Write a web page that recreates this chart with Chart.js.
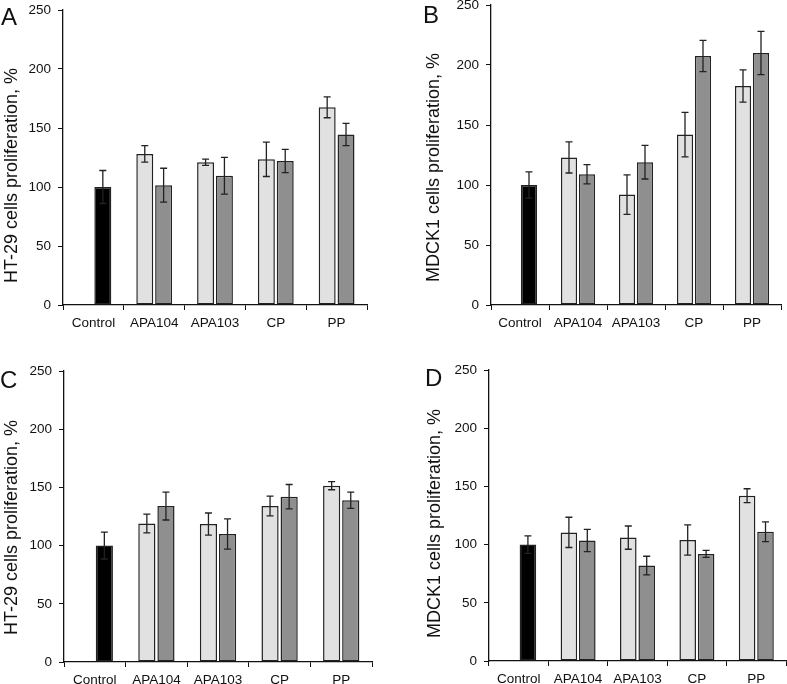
<!DOCTYPE html>
<html>
<head>
<meta charset="utf-8">
<script src="https://cdn.jsdelivr.net/npm/chart.js@4"></script>
<style>
  body { margin: 0; background: #fff; }
  #wrap { position: relative; width: 787px; height: 684px; }
  canvas { position: absolute; }
</style>
</head>
<body>
<div id="wrap">
  <canvas id="chartA"></canvas>
  <canvas id="chartB"></canvas>
  <canvas id="chartC"></canvas>
  <canvas id="chartD"></canvas>
</div>
<script>
// categories and y ticks
const categories = ['Control', 'APA104', 'APA103', 'CP', 'PP'];
const yTicks = [0, 50, 100, 150, 200, 250];

const panelLetters = ['A', 'B', 'C', 'D'];
const yTitles = [
  'HT-29 cells proliferation, %',
  'MDCK1 cells proliferation, %',
  'HT-29 cells proliferation, %',
  'MDCK1 cells proliferation, %'
];

// control bar (one per panel) and its error
const controlMean = [100, 100, 100, 100];
const controlErr = [14, 11, 11.5, 7.5];

// panel A - HT-29
const lightA = [128, 121, 123.5, 167.5];
const lightErrA = [7, 2.6, 14.6, 8.8];
const darkA = [101.5, 109.5, 122, 144.5];
const darkErrA = [14.4, 15.6, 9.9, 9.5];

// panel B - MDCK1
const lightB = [123, 92, 142, 182.5];
const lightErrB = [13, 16.5, 18.5, 13.5];
const darkB = [109, 119, 207.5, 210];
const darkErrB = [8, 14, 13, 18];

// panel C - HT-29
const lightC = [119, 118.5, 134, 151.5];
const lightErrC = [8, 9.5, 8.5, 3.5];
const darkC = [134, 110, 142, 139];
const darkErrC = [12, 13, 10.5, 7];

// panel D - MDCK1
const lightD = [110.5, 106, 104, 142];
const lightErrD = [13, 10, 13, 6];
const darkD = [103.5, 82, 92, 111];
const darkErrD = [9.5, 8, 3, 8.5];

const lightSeries = [lightA, lightB, lightC, lightD];
const lightErrs = [lightErrA, lightErrB, lightErrC, lightErrD];
const darkSeries = [darkA, darkB, darkC, darkD];
const darkErrs = [darkErrA, darkErrB, darkErrC, darkErrD];

// where each panel sits on the page
const layout = [
  { id: 'chartA', x: 0,   y: 0,   w: 390, h: 340, axisW: 63,  top: 10, right: 23, xAxisH: 35,
    letterX: 1,  letterY: 25, titleX: 17, titleGap: 22 },
  { id: 'chartB', x: 390, y: 0,   w: 397, h: 340, axisW: 101, top: 5,  right: 6,  xAxisH: 35,
    letterX: 33, letterY: 23, titleX: 49, titleGap: 23 },
  { id: 'chartC', x: 0,   y: 340, w: 390, h: 344, axisW: 64,  top: 31, right: 18, xAxisH: 22,
    letterX: 0,  letterY: 48, titleX: 17, titleGap: 27 },
  { id: 'chartD', x: 390, y: 340, w: 397, h: 344, axisW: 99,  top: 30, right: 1,  xAxisH: 23,
    letterX: 35, letterY: 46, titleX: 50, titleGap: 23 }
];

const FONT = '"Liberation Sans", Arial, sans-serif';
const INK = '#111';
const CONTROL_COLOR = '#000000';
const LIGHT_COLOR = '#e1e1e1';
const DARK_COLOR = '#8f8f8f';

const errorBars = {
  id: 'errorBars',
  afterDatasetsDraw(chart) {
    const ctx = chart.ctx;
    const yScale = chart.scales.y;
    ctx.save();
    ctx.strokeStyle = '#222';
    ctx.lineWidth = 1.3;
    chart.data.datasets.forEach((ds, di) => {
      const meta = chart.getDatasetMeta(di);
      ds.data.forEach((v, i) => {
        if (v === null) return;
        const e = ds.errors[i];
        const x = meta.data[i].x;
        const y1 = yScale.getPixelForValue(v + e);
        const y2 = yScale.getPixelForValue(v - e);
        ctx.beginPath();
        ctx.moveTo(x, y1); ctx.lineTo(x, y2);
        ctx.moveTo(x - 3.5, y1); ctx.lineTo(x + 3.5, y1);
        ctx.moveTo(x - 3.5, y2); ctx.lineTo(x + 3.5, y2);
        ctx.stroke();
      });
    });
    ctx.restore();
  }
};

const panelText = {
  id: 'panelText',
  afterDraw(chart, args, opts) {
    const ctx = chart.ctx;
    const area = chart.chartArea;
    ctx.save();
    ctx.fillStyle = INK;
    ctx.textAlign = 'left';
    ctx.textBaseline = 'alphabetic';
    ctx.font = '24px ' + FONT;
    ctx.fillText(opts.letter, opts.letterX, opts.letterY);
    ctx.translate(opts.titleX, area.bottom - opts.titleGap);
    ctx.rotate(-Math.PI / 2);
    ctx.font = '18px ' + FONT;
    ctx.fillText(opts.title, 0, 0);
    ctx.restore();
  }
};

layout.forEach((p, k) => {
  const canvas = document.getElementById(p.id);
  canvas.width = p.w;
  canvas.height = p.h;
  canvas.style.left = p.x + 'px';
  canvas.style.top = p.y + 'px';

  // control sits in the second slot of its group, like the dark bars
  const datasets = [
    {
      data: [null, ...lightSeries[k]],
      errors: [null, ...lightErrs[k]],
      backgroundColor: LIGHT_COLOR
    },
    {
      data: [controlMean[k], ...darkSeries[k]],
      errors: [controlErr[k], ...darkErrs[k]],
      backgroundColor: categories.map((c, i) => i === 0 ? CONTROL_COLOR : DARK_COLOR)
    }
  ].map(d => Object.assign(d, {
    borderColor: '#222',
    borderWidth: 1.5,
    borderSkipped: false,
    categoryPercentage: 0.62,
    barPercentage: 0.9
  }));

  new Chart(canvas, {
    type: 'bar',
    data: { labels: categories, datasets: datasets },
    options: {
      responsive: false,
      animation: false,
      devicePixelRatio: 1,
      layout: { padding: { left: 0, top: p.top, right: p.right, bottom: 0 } },
      plugins: {
        legend: { display: false },
        tooltip: { enabled: false },
        panelText: {
          letter: panelLetters[k], title: yTitles[k],
          letterX: p.letterX, letterY: p.letterY,
          titleX: p.titleX, titleGap: p.titleGap
        }
      },
      scales: {
        x: {
          offset: true,
          grid: { offset: true, drawOnChartArea: false, drawTicks: true, tickLength: 5, color: INK, lineWidth: 1 },
          border: { display: true, color: INK, width: 1.3 },
          ticks: { color: INK, font: { family: FONT, size: 13.5 }, padding: 5, maxRotation: 0, autoSkip: false },
          afterFit(scale) {
            scale.height = p.xAxisH;
            scale.paddingLeft = 0;
            scale.paddingRight = 0;
          }
        },
        y: {
          min: yTicks[0],
          max: yTicks[yTicks.length - 1],
          grid: { drawOnChartArea: false, drawTicks: true, tickLength: 5, color: INK, lineWidth: 1 },
          border: { display: true, color: INK, width: 1.3 },
          ticks: { stepSize: yTicks[1] - yTicks[0], color: INK, font: { family: FONT, size: 13.5 }, padding: 7 },
          afterFit(scale) {
            scale.width = p.axisW;
            scale.paddingTop = 0;
            scale.paddingBottom = 0;
          }
        }
      }
    },
    plugins: [errorBars, panelText]
  });
});
</script>
</body>
</html>
